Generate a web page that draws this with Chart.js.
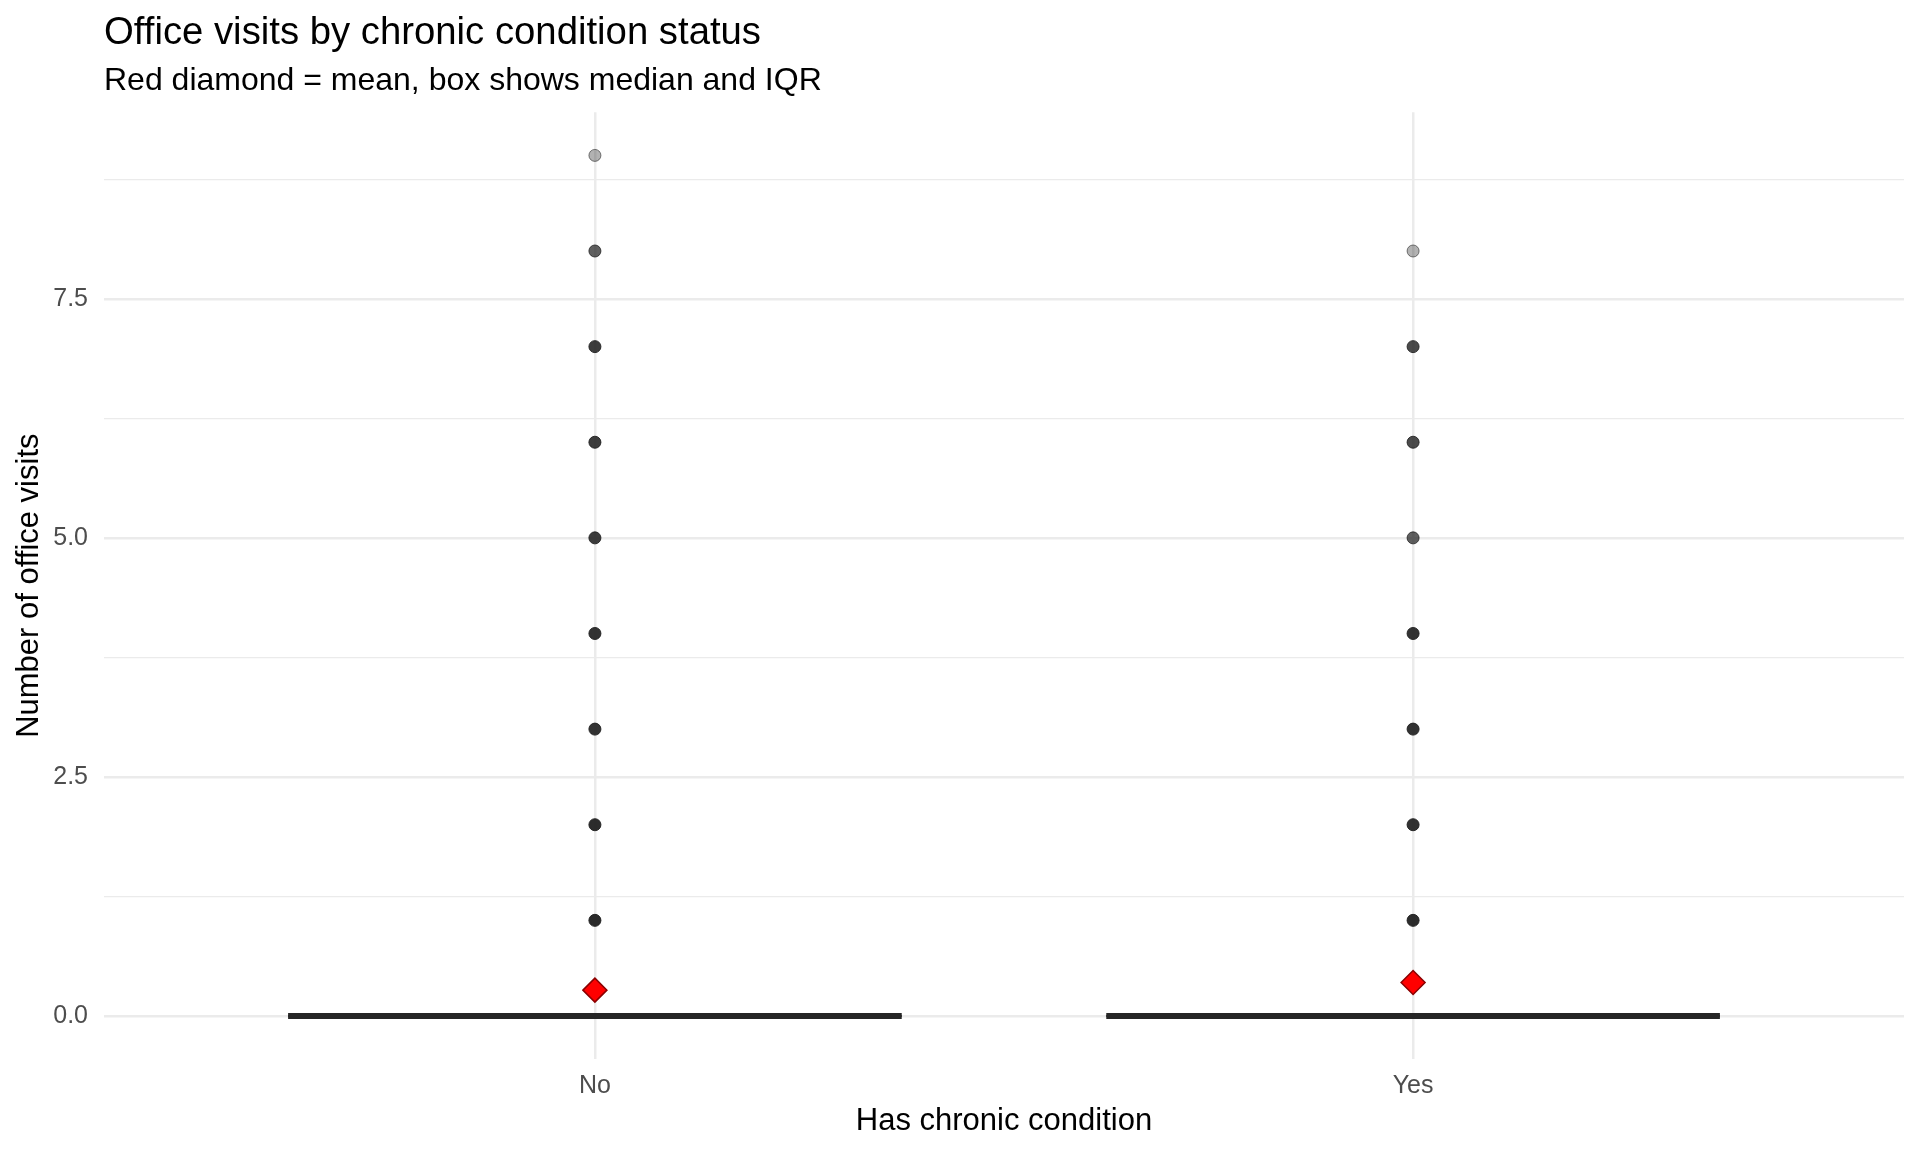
<!DOCTYPE html>
<html>
<head>
<meta charset="utf-8">
<title>Office visits by chronic condition status</title>
<script src="https://cdn.jsdelivr.net/npm/chart.js@4"></script>
<style>
  html, body { margin: 0; padding: 0; background: #fff; }
</style>
</head>
<body>
<canvas id="visits-chart" width="1920" height="1152"></canvas>
<script>
// data
var categories = ['No', 'Yes'];
var q1 = [0, 0];
var medians = [0, 0];
var q3 = [0, 0];
var means = [0.27, 0.35];
// outlier values per group and how many points overlap at each (drives shade)
var outliersNo = [1, 2, 3, 4, 5, 6, 7, 8, 9];
var countsNo = [8, 7, 6, 6, 5, 5, 5, 3, 1];
var outliersYes = [1, 2, 3, 4, 5, 6, 7, 8];
var countsYes = [7, 6, 6, 6, 3, 4, 4, 1];
var yTicks = [0, 2.5, 5, 7.5];
var yMinor = [1.25, 3.75, 6.25, 8.75];

var FONT = '"Liberation Sans", Arial, Helvetica, sans-serif';
var boxHalf = 0.375;
var pointAlpha = 0.35;

function shade(n) {
  return 'rgba(34,34,34,' + (1 - Math.pow(1 - pointAlpha, n)).toFixed(3) + ')';
}

var outlierGroups = [
  { values: outliersNo, counts: countsNo },
  { values: outliersYes, counts: countsYes }
];

var datasets = [];

// boxes (q1..q3 rectangles) and median lines
categories.forEach(function (cat, i) {
  var x = i + 1;
  datasets.push({
    type: 'line',
    order: 3,
    data: [
      { x: x - boxHalf, y: q1[i] }, { x: x + boxHalf, y: q1[i] },
      { x: x + boxHalf, y: q3[i] }, { x: x - boxHalf, y: q3[i] },
      { x: x - boxHalf, y: q1[i] }
    ],
    borderColor: '#333333',
    borderWidth: 2,
    pointRadius: 0,
    fill: false
  });
  datasets.push({
    type: 'line',
    order: 2,
    data: [{ x: x - boxHalf, y: medians[i] }, { x: x + boxHalf, y: medians[i] }],
    borderColor: '#262626',
    borderWidth: 6,
    pointRadius: 0,
    fill: false
  });
});

// outlier points
outlierGroups.forEach(function (g, i) {
  datasets.push({
    type: 'scatter',
    order: 1,
    data: g.values.map(function (v) { return { x: i + 1, y: v }; }),
    pointRadius: 6,
    pointBackgroundColor: g.counts.map(shade),
    pointBorderColor: g.counts.map(function (n) { return shade(n + 1); }),
    pointBorderWidth: 1
  });
});

// means
datasets.push({
  type: 'scatter',
  order: 0,
  data: means.map(function (m, i) { return { x: i + 1, y: m }; }),
  pointStyle: 'rectRot',
  pointRadius: 12,
  pointBackgroundColor: '#ff0000',
  pointBorderColor: '#8b0000',
  pointBorderWidth: 1.5
});

var ctx = document.getElementById('visits-chart').getContext('2d');
var chart = new Chart(ctx, {
  type: 'scatter',
  data: { datasets: datasets },
  options: {
    responsive: false,
    animation: false,
    layout: { padding: { left: 0, right: 16, top: 0, bottom: 12 } },
    plugins: {
      legend: { display: false },
      tooltip: { enabled: false },
      title: {
        display: true,
        text: 'Office visits by chronic condition status',
        align: 'start',
        fullSize: false,
        color: '#000',
        font: { family: FONT, size: 38.3, weight: 'normal' },
        padding: { top: 10, bottom: 6 }
      },
      subtitle: {
        display: true,
        text: 'Red diamond = mean, box shows median and IQR',
        align: 'start',
        fullSize: false,
        color: '#000',
        font: { family: FONT, size: 32, weight: 'normal' },
        padding: { top: 0, bottom: 12 }
      }
    },
    scales: {
      x: {
        type: 'linear',
        min: 0.4,
        max: 2.6,
        afterBuildTicks: function (scale) {
          scale.ticks = categories.map(function (c, i) { return { value: i + 1 }; });
        },
        afterFit: function (scale) { scale.height = 81; },
        ticks: {
          autoSkip: false,
          maxRotation: 0,
          padding: 12,
          color: '#4d4d4d',
          font: { family: FONT, size: 25 },
          callback: function (v) { return categories[Math.round(v) - 1]; }
        },
        grid: { color: '#ebebeb', lineWidth: 2.5, drawTicks: false },
        border: { display: false },
        title: {
          display: true,
          text: 'Has chronic condition',
          color: '#000',
          font: { family: FONT, size: 31 },
          padding: { top: 4, bottom: 0 }
        }
      },
      y: {
        type: 'linear',
        min: -0.45,
        max: 9.45,
        afterBuildTicks: function (scale) {
          scale.ticks = yTicks.concat(yMinor).sort(function (a, b) { return a - b; })
            .map(function (v) { return { value: v }; });
        },
        afterFit: function (scale) { scale.width = 104; },
        ticks: {
          autoSkip: false,
          padding: 16,
          color: '#4d4d4d',
          font: { family: FONT, size: 25 },
          callback: function (v) { return yTicks.indexOf(v) >= 0 ? v.toFixed(1) : ''; }
        },
        grid: {
          color: '#ebebeb',
          drawTicks: false,
          lineWidth: function (c) { return yTicks.indexOf(c.tick.value) >= 0 ? 2.5 : 1.3; }
        },
        border: { display: false },
        title: {
          display: true,
          text: 'Number of office visits',
          color: '#000',
          font: { family: FONT, size: 31 },
          padding: { top: 11, bottom: 0 }
        }
      }
    }
  }
});
</script>
</body>
</html>
